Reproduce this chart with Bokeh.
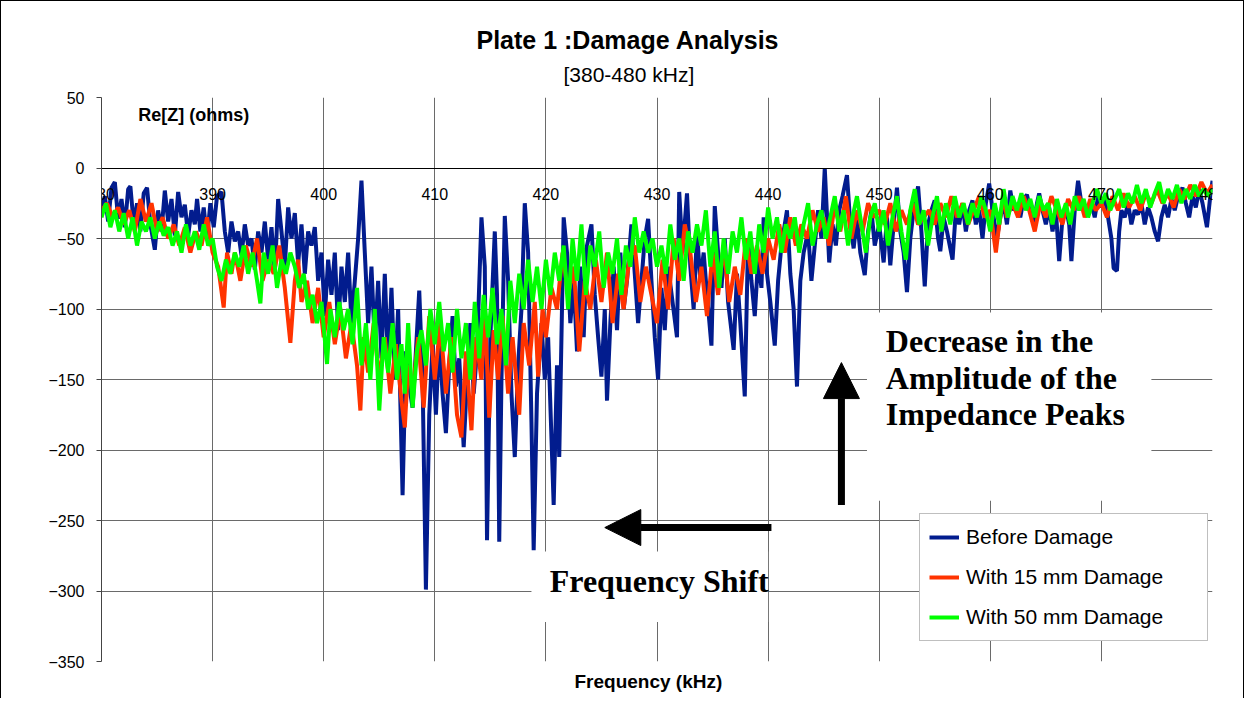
from bokeh.plotting import figure
from bokeh.models import (Range1d, FixedTicker, Label, Arrow, NormalHead, Legend, LegendItem, Title)
from bokeh.embed import file_html
from bokeh.resources import INLINE

# ---------------- data ----------------
x_ticks = [380, 390, 400, 410, 420, 430, 440, 450, 460, 470, 480]
y_ticks = [-350, -300, -250, -200, -150, -100, -50, 0, 50]
series_names = ["Before Damage", "With 15 mm Damage", "With 50 mm Damage"]

blue_f = [380.0, 380.3, 380.6, 380.9, 381.2, 381.5, 381.8, 382.1, 382.4, 382.6, 382.9, 383.2, 383.5, 383.8, 384.1,
          384.4, 384.8, 385.1, 385.4, 385.7, 386.0, 386.3, 386.6, 386.9, 387.2, 387.5, 387.8, 388.1, 388.4, 388.6,
          388.9, 389.2, 389.5, 389.8, 390.1, 390.4, 390.8, 391.1, 391.4, 391.7, 392.0, 392.3, 392.6, 392.9, 393.2,
          393.5, 393.8, 394.1, 394.4, 394.7, 395.0, 395.3, 395.6, 395.9, 396.2, 396.5, 396.8, 397.1, 397.4, 397.7,
          398.0, 398.3, 398.6, 398.9, 399.2, 399.5, 399.8, 400.1, 400.4, 400.7, 401.0, 401.3, 401.6, 401.9, 402.2,
          402.5, 402.8, 403.1, 403.4, 403.7, 404.0, 404.3, 404.6, 404.9, 405.2, 405.5, 405.8, 406.1, 406.4, 406.7,
          407.1, 407.4, 407.7, 408.0, 408.3, 408.6, 408.9, 409.2, 409.5, 409.8, 410.1, 410.4, 410.7, 411.0, 411.3,
          411.6, 411.9, 412.2, 412.6, 412.9, 413.2, 413.5, 413.8, 414.2, 414.5, 414.7, 415.0, 415.4, 415.6, 415.8,
          416.0, 416.3, 416.6, 416.9, 417.2, 417.5, 417.8, 418.1, 418.4, 418.7, 418.9, 419.2, 419.6, 419.9, 420.2,
          420.7, 421.0, 421.2, 421.6, 421.9, 422.2, 422.5, 422.8, 423.1, 423.4, 423.7, 424.1, 424.4, 424.7, 425.0,
          425.3, 425.5, 425.8, 426.1, 426.4, 426.7, 427.0, 427.3, 427.7, 428.0, 428.3, 428.6, 428.9, 429.2, 429.5,
          429.8, 430.1, 430.4, 430.7, 431.0, 431.4, 431.8, 432.0, 432.3, 432.7, 433.0, 433.3, 433.6, 433.9, 434.2,
          434.5, 434.9, 435.2, 435.5, 435.8, 436.1, 436.4, 436.9, 437.2, 437.5, 437.9, 438.2, 438.5, 438.8, 439.1,
          439.4, 439.6, 439.9, 440.2, 440.6, 440.9, 441.2, 441.5, 441.7, 442.0, 442.3, 442.6, 442.9, 443.2, 443.6,
          443.9, 444.2, 444.5, 444.8, 445.1, 445.5, 445.8, 446.1, 446.4, 446.7, 447.1, 447.4, 447.7, 448.0, 448.3,
          448.7, 449.0, 449.3, 449.6, 450.0, 450.4, 450.7, 451.0, 451.3, 451.6, 451.9, 452.2, 452.5, 452.8, 453.1,
          453.5, 453.8, 454.1, 454.4, 454.7, 455.0, 455.3, 455.5, 455.8, 456.1, 456.6, 456.9, 457.2, 457.5, 457.8,
          458.1, 458.4, 458.7, 459.0, 459.3, 459.6, 459.9, 460.2, 460.6, 460.9, 461.2, 461.5, 461.8, 462.1, 462.4,
          462.7, 463.0, 463.3, 463.6, 463.9, 464.2, 464.4, 464.7, 465.0, 465.3, 465.6, 465.9, 466.2, 466.5, 466.8,
          467.1, 467.3, 467.6, 467.9, 468.2, 468.5, 468.8, 469.1, 469.4, 469.7, 470.0, 470.3, 470.6, 470.9, 471.1,
          471.4, 471.6, 471.8, 472.1, 472.4, 472.7, 473.0, 473.3, 473.6, 473.9, 474.2, 474.5, 474.8, 475.1, 475.4,
          475.7, 476.0, 476.3, 476.6, 476.9, 477.3, 477.6, 477.9, 478.2, 478.5, 478.8, 479.1, 479.5, 479.8, 480.0]
blue_v = [-28, -20, -38, -14, -10, -36, -22, -42, -15, -13, -40, -25, -45, -18, -14,
          -40, -58, -30, -45, -16, -38, -22, -48, -17, -35, -26, -48, -30, -40, -22,
          -45, -28, -50, -25, -42, -20, -17, -45, -60, -38, -52, -45, -62, -40, -55,
          -50, -72, -45, -60, -38, -65, -42, -75, -22, -45, -70, -28, -50, -32, -68,
          -40, -75, -45, -55, -42, -80, -60, -105, -65, -90, -60, -115, -70, -95, -60,
          -110, -80, -50, -9, -60, -110, -70, -125, -80, -135, -75, -140, -85, -150, -100,
          -232, -130, -155, -170, -130, -87, -150, -299, -175, -125, -175, -120, -160, -188, -140,
          -105, -155, -135, -198, -150, -110, -160, -130, -35, -70, -264, -120, -45, -90, -265,
          -150, -34, -80, -160, -205, -140, -100, -25, -60, -180, -271, -160, -110, -150, -120,
          -239, -140, -205, -35, -60, -110, -80, -130, -70, -120, -55, -40, -90, -120, -148,
          -100, -165, -110, -70, -115, -60, -100, -80, -40, -75, -110, -80, -50, -36, -80,
          -120, -150, -85, -115, -70, -95, -120, -17, -60, -18, -70, -100, -45, -80, -60,
          -90, -126, -27, -60, -85, -50, -95, -129, -75, -110, -162, -50, -80, -105, -65,
          -85, -35, -75, -95, -126, -80, -55, -40, -30, -75, -100, -155, -80, -60, -45,
          -80, -55, -30, -50, 0, -67, -40, -55, -30, -20, -5, -40, -57, -35, -60,
          -76, -45, -30, -55, -40, -67, -35, -69, -40, -14, -45, -60, -88, -50, -30,
          -13, -45, -84, -40, -30, -23, -50, -59, -35, -45, -65, -30, -40, -25, -45,
          -30, -23, -40, -30, -50, -25, -11, -30, -50, -35, -25, -40, -16, -30, -25,
          -35, -22, -19, -30, -40, -25, -18, -30, -40, -28, -45, -30, -66, -35, -28,
          -40, -66, -30, -9, -25, -30, -33, -25, -35, -20, -28, -21, -35, -50, -71,
          -73, -45, -30, -35, -25, -40, -30, -33, -25, -40, -28, -35, -45, -52, -35,
          -26, -35, -22, -30, -20, -14, -25, -35, -20, -28, -15, -25, -42, -20, -9]

red_f = [380.0, 380.5, 381.0, 381.5, 382.0, 382.5, 383.0, 383.5, 384.0, 384.5, 385.0, 385.5, 386.0, 386.5, 387.0,
         387.5, 388.0, 388.5, 389.0, 389.5, 390.0, 390.5, 391.0, 391.3, 391.7, 392.0, 392.5, 393.0, 393.5, 394.0,
         394.5, 395.0, 395.5, 396.0, 396.5, 397.0, 397.4, 397.7, 398.0, 398.5, 399.0, 399.5, 400.0, 400.5, 401.0,
         401.5, 402.0, 402.5, 403.0, 403.3, 403.6, 404.0, 404.5, 405.0, 405.5, 406.0, 406.5, 407.0, 407.3, 407.6,
         408.0, 408.5, 409.0, 409.5, 410.0, 410.5, 411.0, 411.5, 412.0, 412.4, 412.8, 413.3, 413.7, 414.2, 414.5,
         414.9, 415.3, 415.7, 416.1, 416.6, 417.0, 417.6, 418.0, 418.5, 419.0, 419.3, 419.7, 420.0, 420.5, 421.0,
         421.5, 422.0, 422.5, 423.0, 423.5, 424.0, 424.5, 425.0, 425.5, 426.0, 426.5, 427.0, 427.5, 428.0, 428.5,
         429.0, 429.5, 430.0, 430.5, 431.0, 431.5, 432.0, 432.5, 433.0, 433.5, 434.0, 434.5, 435.0, 435.5, 436.0,
         436.5, 437.0, 437.5, 438.0, 438.5, 439.0, 439.5, 440.0, 440.5, 441.0, 441.5, 442.0, 442.5, 443.0, 443.5,
         444.0, 444.5, 445.0, 445.5, 446.0, 446.5, 447.0, 447.5, 448.0, 448.5, 449.0, 449.5, 450.0, 450.5, 451.0,
         451.5, 452.0, 452.5, 453.0, 453.5, 454.0, 454.5, 455.0, 455.5, 456.0, 456.5, 457.0, 457.5, 458.0, 458.5,
         459.0, 459.5, 460.0, 460.5, 460.8, 461.2, 461.5, 462.0, 462.5, 463.0, 463.5, 464.0, 464.5, 465.0, 465.5,
         466.0, 466.5, 467.0, 467.5, 468.0, 468.5, 469.0, 469.5, 470.0, 470.5, 471.0, 471.5, 472.0, 472.5, 473.0,
         473.5, 474.0, 474.5, 475.0, 475.5, 476.0, 476.5, 477.0, 477.5, 478.0, 478.5, 479.0, 479.5, 480.0]
red_v = [-30, -25, -35, -28, -40, -30, -45, -22, -38, -25, -45, -35, -50, -40, -55,
         -42, -60, -45, -55, -35, -60, -70, -99, -60, -75, -60, -80, -55, -70, -50,
         -80, -65, -75, -55, -85, -124, -80, -65, -95, -80, -110, -85, -120, -95, -125,
         -100, -135, -110, -140, -172, -120, -145, -110, -150, -120, -160, -125, -165, -184, -140,
         -160, -120, -170, -105, -150, -110, -160, -120, -175, -191, -130, -186, -120, -150, -100,
         -177, -115, -150, -105, -160, -120, -175, -110, -140, -95, -148, -100, -120, -85, -100,
         -60, -90, -70, -130, -80, -100, -65, -95, -60, -110, -75, -100, -65, -55, -95,
         -70, -90, -110, -65, -100, -50, -80, -40, -60, -95, -70, -105, -60, -90, -55,
         -95, -70, -90, -50, -75, -55, -75, -50, -65, -40, -60, -35, -55, -40, -50,
         -30, -45, -35, -55, -25, -45, -20, -50, -30, -45, -25, -35, -30, -40, -25,
         -45, -30, -40, -25, -40, -35, -30, -40, -25, -35, -20, -35, -25, -40, -30,
         -20, -35, -30, -60, -40, -20, -35, -25, -35, -20, -30, -45, -25, -35, -20,
         -30, -40, -22, -30, -20, -35, -22, -30, -25, -35, -20, -30, -18, -28, -20,
         -30, -18, -25, -15, -25, -18, -28, -15, -22, -12, -20, -10, -18, -12]

green_f = [380.0, 380.4, 380.8, 381.2, 381.6, 382.0, 382.4, 382.8, 383.2, 383.6, 384.0, 384.4, 384.8, 385.2, 385.6,
           386.0, 386.4, 386.8, 387.2, 387.6, 388.0, 388.4, 388.8, 389.2, 389.6, 390.0, 390.4, 390.8, 391.2, 391.6,
           392.0, 392.4, 392.8, 393.2, 393.6, 394.0, 394.3, 394.6, 395.0, 395.4, 395.8, 396.2, 396.6, 397.0, 397.4,
           397.8, 398.2, 398.6, 399.0, 399.4, 399.8, 400.3, 400.6, 401.0, 401.4, 401.8, 402.2, 402.6, 403.0, 403.4,
           403.8, 404.2, 404.6, 405.0, 405.4, 405.8, 406.2, 406.6, 407.0, 407.3, 407.6, 408.0, 408.4, 408.8, 409.2,
           409.6, 410.0, 410.4, 410.8, 411.2, 411.6, 412.0, 412.4, 412.8, 413.2, 413.6, 414.0, 414.4, 414.8, 415.2,
           415.6, 416.0, 416.4, 416.8, 417.2, 417.6, 418.0, 418.4, 418.8, 419.2, 419.6, 420.0, 420.4, 420.8, 421.2,
           421.6, 422.0, 422.4, 422.8, 423.2, 423.6, 424.0, 424.4, 424.8, 425.2, 425.6, 426.0, 426.4, 426.8, 427.2,
           427.6, 428.0, 428.4, 428.8, 429.2, 429.6, 430.0, 430.4, 430.8, 431.2, 431.6, 432.0, 432.4, 432.8, 433.2,
           433.6, 434.0, 434.4, 434.8, 435.2, 435.6, 436.0, 436.4, 436.8, 437.2, 437.6, 438.0, 438.4, 438.8, 439.2,
           439.6, 440.0, 440.4, 440.8, 441.2, 441.6, 442.0, 442.4, 442.8, 443.2, 443.6, 444.0, 444.4, 444.8, 445.2,
           445.6, 446.0, 446.4, 446.8, 447.2, 447.6, 448.0, 448.4, 448.8, 449.2, 449.6, 450.0, 450.4, 450.8, 451.2,
           451.6, 452.0, 452.4, 452.8, 453.2, 453.6, 454.0, 454.4, 454.8, 455.2, 455.6, 456.0, 456.4, 456.8, 457.2,
           457.6, 458.0, 458.4, 458.8, 459.2, 459.6, 460.0, 460.4, 460.8, 461.2, 461.6, 462.0, 462.4, 462.8, 463.2,
           463.6, 464.0, 464.4, 464.8, 465.2, 465.6, 466.0, 466.4, 466.8, 467.2, 467.6, 468.0, 468.4, 468.8, 469.2,
           469.6, 470.0, 470.4, 470.8, 471.2, 471.6, 472.0, 472.4, 472.8, 473.2, 473.6, 474.0, 474.4, 474.8, 475.2,
           475.6, 476.0, 476.4, 476.8, 477.2, 477.6, 478.0, 478.4, 478.8, 479.2, 479.6, 480.0]
green_v = [-35, -25, -42, -30, -45, -32, -50, -35, -55, -38, -45, -35, -50, -38, -48,
           -42, -55, -45, -60, -40, -55, -45, -58, -40, -55, -50, -70, -80, -65, -75,
           -60, -70, -55, -75, -60, -80, -96, -60, -75, -55, -85, -65, -75, -60, -70,
           -85, -75, -100, -90, -110, -95, -139, -100, -120, -95, -115, -100, -125, -85, -140,
           -110, -150, -100, -172, -120, -145, -110, -150, -125, -160, -110, -170, -130, -115, -140,
           -100, -125, -95, -130, -110, -145, -100, -135, -110, -150, -95, -135, -90, -120, -85,
           -125, -100, -140, -80, -110, -75, -100, -65, -95, -70, -100, -65, -90, -60, -80,
           -55, -100, -50, -80, -40, -90, -55, -70, -45, -85, -60, -75, -50, -90, -55,
           -70, -35, -60, -45, -60, -50, -70, -55, -75, -40, -65, -50, -80, -45, -60,
           -40, -55, -30, -70, -45, -85, -50, -75, -45, -60, -35, -65, -45, -75, -40,
           -60, -28, -50, -35, -60, -40, -50, -35, -60, -40, -25, -55, -40, -30, -50,
           -35, -20, -45, -30, -55, -35, -20, -40, -60, -35, -25, -45, -30, -55, -35,
           -20, -45, -65, -30, -15, -40, -30, -55, -35, -20, -45, -25, -40, -20, -35,
           -25, -40, -25, -35, -20, -30, -45, -25, -40, -15, -35, -20, -30, -18, -30,
           -22, -35, -20, -30, -25, -40, -22, -35, -25, -40, -20, -30, -22, -35, -25,
           -15, -25, -18, -30, -22, -15, -28, -18, -25, -12, -25, -15, -28, -18, -10,
           -25, -15, -22, -12, -25, -15, -22, -12, -20, -15, -20, -15]

colors = ["#021C8E", "#FF3300", "#00FF00"]

# ---------------- figure ----------------
W, H = 1244, 698
p = figure(width=W, height=H, output_backend="svg", toolbar_location=None, title=None,
           x_range=Range1d(380, 480), y_range=Range1d(-350, 50),
           min_border_left=100, min_border_right=33, min_border_top=96, min_border_bottom=36,
           background_fill_color="white", border_fill_color="white")
p.outline_line_color = None
p.styles = {"border-top": "1px solid #000", "border-left": "1px solid #000",
            "border-right": "1px solid #000"}

# titles (first added sits closest to the plot); left-aligned with offsets from the plot's left edge
p.add_layout(Title(text="[380-480 kHz]", align="left", offset=462, standoff=24,
                   text_font="Liberation Sans", text_font_style="normal",
                   text_font_size="21px", text_color="black"), "above")
p.add_layout(Title(text="Plate 1 :Damage Analysis", align="left", offset=375, standoff=-11,
                   text_font="Liberation Sans", text_font_style="bold",
                   text_font_size="25px", text_color="black"), "above")
p.add_layout(Title(text="Frequency (kHz)", align="left", offset=473, standoff=15,
                   text_font="Liberation Sans", text_font_style="bold",
                   text_font_size="19px", text_color="black"), "below")

# axes
p.xaxis.ticker = FixedTicker(ticks=x_ticks)
p.yaxis.ticker = FixedTicker(ticks=y_ticks)
p.xaxis.fixed_location = 0
p.xaxis.major_tick_in = 0
p.xaxis.major_tick_out = 0
p.xaxis.minor_tick_line_color = None
p.xaxis.axis_line_color = "black"
p.xaxis.major_label_standoff = 20
p.xaxis.major_label_text_font = "Liberation Sans"
p.xaxis.major_label_text_font_size = "16px"
p.xaxis.major_label_text_color = "black"

p.yaxis.major_tick_in = 0
p.yaxis.major_tick_out = 5
p.yaxis.minor_tick_line_color = None
p.yaxis.axis_line_color = "#444"
p.yaxis.major_tick_line_color = "#444"
p.yaxis.major_label_standoff = 12
p.yaxis.major_label_text_font = "Liberation Sans"
p.yaxis.major_label_text_font_size = "16px"
p.yaxis.major_label_text_color = "black"

for g in (p.xgrid, p.ygrid):
    g.grid_line_color = "#6a6a6a"
    g.grid_line_width = 1
    g.grid_line_alpha = 1.0

# white boxes behind the annotation texts (cover grid lines)
p.quad(left=[448.9, 418.7], right=[474.5, 440.0], top=[-102.5, -272.0], bottom=[-236.0, -322.0],
       fill_color="white", line_color=None)

# data lines
r_blue = p.line(blue_f, blue_v, line_color=colors[0], line_width=4)
r_red = p.line(red_f, red_v, line_color=colors[1], line_width=4)
r_green = p.line(green_f, green_v, line_color=colors[2], line_width=4)

legend = Legend(items=[LegendItem(label=series_names[0], renderers=[r_blue]),
                       LegendItem(label=series_names[1], renderers=[r_red]),
                       LegendItem(label=series_names[2], renderers=[r_green])],
                location=(818, 20), orientation="vertical",
                label_text_font="Liberation Sans", label_text_font_size="21px",
                label_text_color="black", glyph_width=30, glyph_height=28,
                label_standoff=7, label_width=232, spacing=12, padding=9, margin=0,
                border_line_color="#808080", border_line_width=1,
                background_fill_color="white", background_fill_alpha=1.0)
p.add_layout(legend)

# axis caption inside the plot
p.add_layout(Label(x=383.3, y=37.5, text="Re[Z] (ohms)", text_align="left",
                   text_baseline="middle", text_font="Liberation Sans", text_font_style="bold",
                   text_font_size="18px", text_color="black"))

for txt, yy in [("Decrease in the", -123), ("Amplitude of the", -149), ("Impedance Peaks", -174.5)]:
    p.add_layout(Label(x=450.6, y=yy, text=txt, text_align="left", text_baseline="middle",
                       text_font="Liberation Serif", text_font_style="bold",
                       text_font_size="32px", text_color="black"))
p.add_layout(Label(x=430.2, y=-292.6, text="Frequency Shift", text_align="center",
                   text_baseline="middle", text_font="Liberation Serif", text_font_style="bold",
                   text_font_size="32px", text_color="black"))

# arrows
p.add_layout(Arrow(end=NormalHead(size=36, fill_color="black", line_color="black"),
                   x_start=440.3, y_start=-255, x_end=425.3, y_end=-255,
                   line_color="black", line_width=7))
p.add_layout(Arrow(end=NormalHead(size=36, fill_color="black", line_color="black"),
                   x_start=446.6, y_start=-239, x_end=446.6, y_end=-138,
                   line_color="black", line_width=7))

open("out.html", "w").write(file_html(p, INLINE))
